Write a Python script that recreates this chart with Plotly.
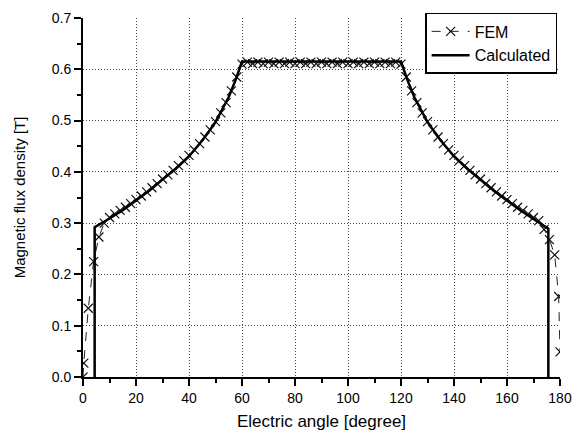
import plotly.graph_objects as go

# Calculated curve (electric angle in degrees, flux density in T)
calc_angle = [4.4, 4.4, 10, 15, 20, 25, 30, 35, 40, 45, 50, 55, 57.5, 60,
              120, 122.5, 125, 130, 135, 140, 145, 150, 155, 160, 165, 170, 175.6, 175.6]
calc_b = [0.0, 0.292, 0.309, 0.325, 0.344, 0.363, 0.385, 0.406, 0.430, 0.461, 0.497, 0.546, 0.578, 0.615,
          0.615, 0.578, 0.546, 0.497, 0.461, 0.430, 0.406, 0.385, 0.363, 0.344, 0.325, 0.308, 0.289, 0.0]

# FEM results
fem_angle = [0, 0.3, 2, 4, 6, 8, 10, 12, 14, 16, 18, 20, 22, 24, 26, 28, 30, 32, 34, 36, 38, 40,
             42, 44, 46, 48, 50, 52, 54, 56, 58, 60, 62, 64, 66, 68, 70, 72, 74, 76, 78, 80,
             82, 84, 86, 88, 90, 92, 94, 96, 98, 100, 102, 104, 106, 108, 110, 112, 114, 116, 118, 120,
             122, 124, 126, 128, 130, 132, 134, 136, 138, 140, 142, 144, 146, 148, 150, 152, 154, 156, 158, 160,
             162, 164, 166, 168, 170, 172, 174, 176, 178, 179.5, 180]
fem_b = [0.0, 0.027, 0.134, 0.225, 0.273, 0.300, 0.311, 0.318, 0.325, 0.331, 0.338, 0.346, 0.353, 0.361,
         0.369, 0.377, 0.386, 0.394, 0.403, 0.412, 0.422, 0.432, 0.443, 0.455, 0.468, 0.482, 0.498,
         0.515, 0.535, 0.558, 0.585, 0.610, 0.614, 0.611, 0.614, 0.611, 0.614, 0.611, 0.614, 0.611,
         0.614, 0.611, 0.614, 0.611, 0.614, 0.611, 0.614, 0.611, 0.614, 0.611, 0.614, 0.611, 0.614,
         0.611, 0.614, 0.611, 0.614, 0.611, 0.614, 0.611, 0.614, 0.610,
         0.585, 0.558, 0.535, 0.515, 0.498, 0.482, 0.468, 0.455, 0.443, 0.432, 0.422, 0.412, 0.403,
         0.394, 0.386, 0.377, 0.369, 0.361, 0.353, 0.346, 0.338, 0.331, 0.325, 0.318, 0.311, 0.305,
         0.288, 0.268, 0.238, 0.157, 0.049, 0.0]

x_ticks = [0, 20, 40, 60, 80, 100, 120, 140, 160, 180]
y_ticks = [0.0, 0.1, 0.2, 0.3, 0.4, 0.5, 0.6, 0.7]

fig = go.Figure()
fig.add_trace(go.Scatter(
    x=fem_angle, y=fem_b, name="FEM", mode="lines+markers",
    line=dict(color="#222", width=1, dash="dash"),
    marker=dict(symbol="x-thin", size=9, line=dict(color="#111", width=1.2)),
))
fig.add_trace(go.Scatter(
    x=calc_angle, y=calc_b, name="Calculated", mode="lines",
    line=dict(color="#000", width=2.5),
))

font_family = "Liberation Sans, Arial, sans-serif"
# the page body adds an 8px margin, so the figure is 8px smaller on each axis
fig.update_layout(
    width=573, height=426,
    margin=dict(l=75, r=21, t=10, b=57, autoexpand=False),
    paper_bgcolor="white", plot_bgcolor="white",
    font=dict(family=font_family, color="#000", size=14),
    showlegend=True,
    legend=dict(
        x=0.994, y=1.014, xanchor="right", yanchor="top",
        bgcolor="white", bordercolor="#000", borderwidth=1.5,
        font=dict(size=16, family=font_family, color="#000"),
        tracegroupgap=0, itemwidth=38,
    ),
    xaxis=dict(
        range=[0, 180], tickvals=x_ticks, ticktext=[str(v) for v in x_ticks],
        showline=True, linecolor="#000", linewidth=2,
        ticks="outside", ticklen=7, tickwidth=2, tickcolor="#000",
        minor=dict(ticks="outside", ticklen=4, tickwidth=1.5, tickcolor="#000", dtick=10, tick0=0, showgrid=False),
        showgrid=True, gridcolor="#444", griddash="1px,2px", gridwidth=1,
        zeroline=False,
        title=dict(text="Electric angle [degree]", font=dict(size=17), standoff=10),
        tickfont=dict(size=14),
    ),
    yaxis=dict(
        range=[0, 0.7], tickvals=y_ticks, ticktext=["%.1f" % v for v in y_ticks],
        showline=True, linecolor="#000", linewidth=2,
        ticks="outside", ticklen=7, tickwidth=2, tickcolor="#000",
        minor=dict(ticks="outside", ticklen=4, tickwidth=1.5, tickcolor="#000", dtick=0.05, tick0=0, showgrid=False),
        showgrid=True, gridcolor="#444", griddash="1px,2px", gridwidth=1,
        zeroline=False,
        title=dict(text="Magnetic flux density [T]", font=dict(size=15), standoff=22),
        tickfont=dict(size=14),
    ),
)

fig.write_html("out.html")
